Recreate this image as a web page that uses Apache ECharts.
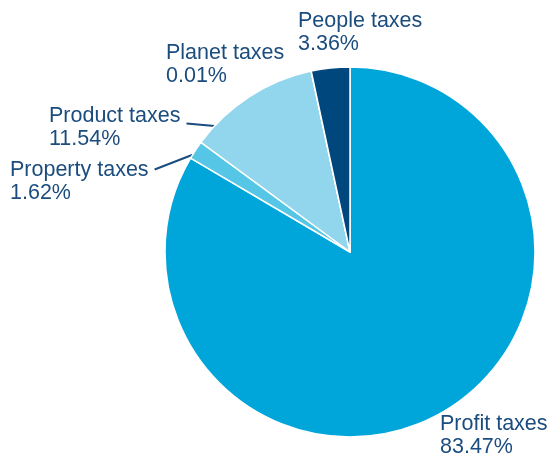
<!DOCTYPE html>
<html>
<head>
<meta charset="utf-8">
<script src="https://cdn.jsdelivr.net/npm/echarts@6/dist/echarts.min.js"></script>
<style>
  html, body { margin: 0; padding: 0; background: #ffffff; }
  #chart { width: 550px; height: 460px; }
</style>
</head>
<body>
<div id="chart"></div>
<script>
// Tax categories, listed clockwise from 12 o'clock
const categories = ['Profit taxes', 'Property taxes', 'Product taxes', 'Planet taxes', 'People taxes'];
// Share of total tax (%)
const shares = [83.47, 1.62, 11.54, 0.01, 3.36];

const sliceColors = ['#00a6da', '#56c6e6', '#91d6ec', '#91d6ec', '#00477d'];
const textColor = '#1b4c7e';

const PIE_CENTER = [350, 252];
const PIE_RADIUS = 185;

// Where each label's text block starts (left, top), in px
const labelSpots = [
  [440, 412],
  [10, 158],
  [49, 104],
  [166, 41],
  [298, 9]
];
// Leader lines: where along the slice's arc the line lands (0 = slice start,
// 1 = slice end) and how far below the label top it leaves the text
const leaders = [
  null,
  { along: 0.21, dy: 11.5 },
  { along: 0.16, dy: 19.5 },
  null,
  null
];

// Start angle of each slice, degrees clockwise from 12 o'clock
const sliceStart = [];
(function () {
  const total = shares.reduce(function (a, b) { return a + b; }, 0);
  let acc = 0;
  shares.forEach(function (v) {
    sliceStart.push(acc / total * 360);
    acc += v;
  });
  sliceStart.push(360);
})();

function arcPoint(deg) {
  const r = deg * Math.PI / 180;
  return [PIE_CENTER[0] + PIE_RADIUS * Math.sin(r), PIE_CENTER[1] - PIE_RADIUS * Math.cos(r)];
}

const chart = echarts.init(document.getElementById('chart'), null, { renderer: 'canvas' });

chart.setOption({
  animation: false,
  series: [{
    type: 'pie',
    center: PIE_CENTER,
    radius: PIE_RADIUS,
    startAngle: 90,
    clockwise: true,
    avoidLabelOverlap: false,
    emphasis: { disabled: true },
    percentPrecision: 2,
    itemStyle: { borderColor: '#ffffff', borderWidth: 1.5 },
    label: {
      show: true,
      position: 'outside',
      formatter: '{b}\n{d}%',
      fontFamily: '"Liberation Sans", Arial, sans-serif',
      fontSize: 21.5,
      lineHeight: 23.5,
      color: textColor,
      align: 'left'
    },
    labelLine: {
      show: true,
      length: 5,
      length2: 0,
      smooth: false,
      lineStyle: { color: textColor, width: 2 }
    },
    labelLayout: function (params) {
      const i = params.dataIndex;
      const p = labelSpots[i];
      const out = { x: p[0], y: p[1], align: 'left', verticalAlign: 'top' };
      const ld = leaders[i];
      if (ld) {
        const a0 = sliceStart[i], a1 = sliceStart[i + 1];
        const end = arcPoint(a0 + (a1 - a0) * ld.along);
        const start = [p[0] + params.labelRect.width + 6, p[1] + ld.dy];
        out.labelLinePoints = [end, start];
      }
      return out;
    },
    data: categories.map(function (name, i) {
      return {
        name: name,
        value: shares[i],
        itemStyle: { color: sliceColors[i] },
        labelLine: { show: !!leaders[i] }
      };
    })
  }]
});
</script>
</body>
</html>
